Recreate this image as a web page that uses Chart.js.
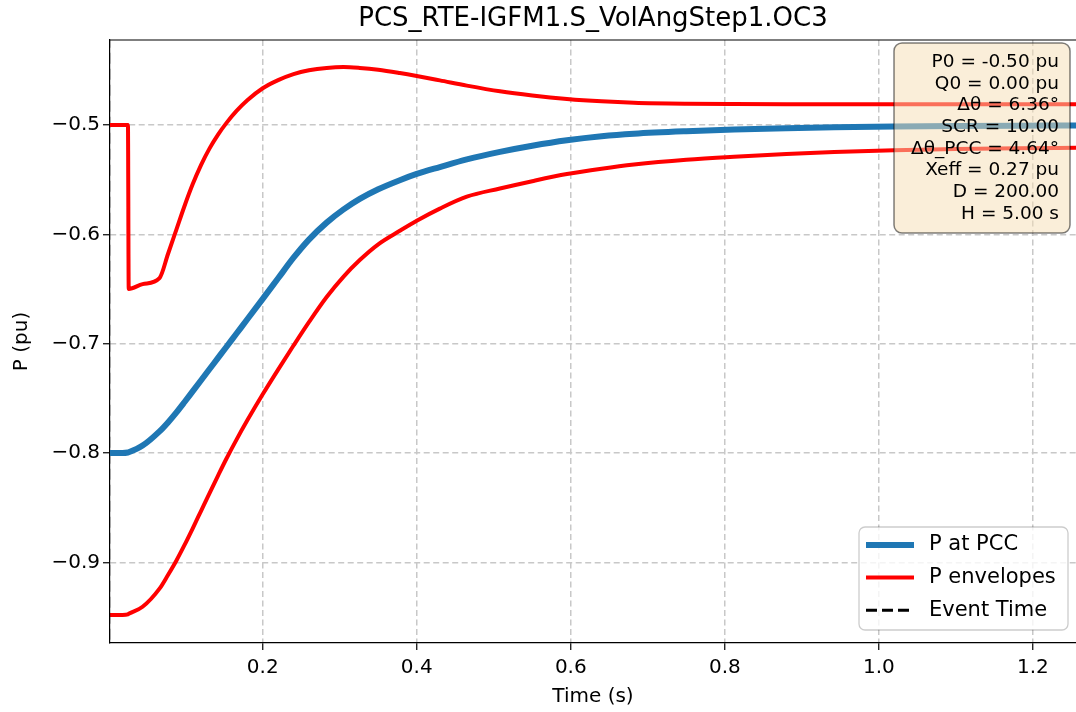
<!DOCTYPE html>
<html>
<head>
<meta charset="utf-8">
<script src="https://cdn.jsdelivr.net/npm/chart.js@4/dist/chart.umd.min.js"></script>
<style>
  html, body { margin: 0; padding: 0; background: #fff; }
</style>
</head>
<body>
<canvas id="chart" width="1076" height="712"></canvas>
<script>
// time axis (s) shared by all series
let time = [0, 0.018, 0.025, 0.026, 0.044, 0.066, 0.077, 0.088, 0.098, 0.109,
  0.12, 0.131, 0.142, 0.153, 0.166, 0.18, 0.2, 0.22, 0.24, 0.26,
  0.283, 0.305, 0.326, 0.35, 0.378, 0.4, 0.43, 0.465, 0.508, 0.55,
  0.595, 0.64, 0.682, 0.75, 0.812, 0.88, 0.942, 1.02, 1.1, 1.18, 1.26];

// P at PCC (pu)
let pPcc = [-0.8, -0.8, -0.7995, -0.7993, -0.7932, -0.7802, -0.772, -0.7628, -0.7538, -0.7436,
  -0.7334, -0.7232, -0.713, -0.7028, -0.6907, -0.6777, -0.659, -0.6402, -0.6214, -0.6048,
  -0.5893, -0.5772, -0.5676, -0.5588, -0.5505, -0.5448, -0.5385, -0.5315, -0.5246, -0.519,
  -0.514, -0.5103, -0.508, -0.5057, -0.5042, -0.503, -0.5021, -0.5014, -0.5009, -0.5006, -0.5004];

// upper and lower envelopes (pu)
let pUpper = [-0.5, -0.5, -0.5, -0.65, -0.6455, -0.64, -0.618, -0.5955, -0.575, -0.5543,
  -0.5365, -0.5214, -0.5088, -0.4981, -0.4872, -0.4774, -0.4664, -0.459, -0.4535, -0.45,
  -0.4478, -0.447, -0.4478, -0.4495, -0.4525, -0.4552, -0.4592, -0.464, -0.4692, -0.473,
  -0.4762, -0.4784, -0.4797, -0.4806, -0.4809, -0.481, -0.481, -0.481, -0.481, -0.481, -0.481];

let pLower = [-0.948, -0.948, -0.9475, -0.947, -0.9406, -0.924, -0.9115, -0.8982, -0.8847, -0.869,
  -0.8528, -0.8366, -0.8206, -0.805, -0.7877, -0.7701, -0.7463, -0.7237, -0.7017, -0.6803,
  -0.6573, -0.6386, -0.6235, -0.6091, -0.5968, -0.5876, -0.5765, -0.5656, -0.5581, -0.5514,
  -0.5449, -0.54, -0.5362, -0.5318, -0.529, -0.5265, -0.5248, -0.5231, -0.522, -0.5213, -0.5208];

// event marker (left of the visible window)
let eventTime = [0, 0];
let eventP = [-1.0, -0.4];

let xTicks = [0.2, 0.4, 0.6, 0.8, 1.0, 1.2];
let yTicks = [-0.9, -0.8, -0.7, -0.6, -0.5];

let paramLines = ['P0 = -0.50 pu', 'Q0 = 0.00 pu', '\u0394\u03b8 = 6.36\u00b0', 'SCR = 10.00',
  '\u0394\u03b8_PCC = 4.64\u00b0', 'Xeff = 0.27 pu', 'D = 200.00', 'H = 5.00 s'];

let FONT = '"DejaVu Sans"';

let toPoints = (xs, ys) => xs.map((x, i) => ({ x: x, y: ys[i] }));

// top spine, parameter box and the legend
let overlay = {
  id: 'overlay',
  afterDatasetsDraw(chart) {
    let ctx = chart.ctx, a = chart.chartArea;
    ctx.save();
    ctx.strokeStyle = '#000';
    ctx.lineWidth = 1.2;
    ctx.beginPath();
    ctx.moveTo(a.left, a.top);
    ctx.lineTo(a.right, a.top);
    ctx.stroke();

    let w = 176, h = 190, x = a.right - 6 - w, y = a.top + 3;
    ctx.beginPath();
    ctx.roundRect(x, y, w, h, 8);
    ctx.fillStyle = 'rgba(245,222,179,0.5)';
    ctx.fill();
    ctx.strokeStyle = 'rgba(0,0,0,0.5)';
    ctx.lineWidth = 1.5;
    ctx.stroke();
    ctx.fillStyle = '#000';
    ctx.font = '18.5px ' + FONT;
    ctx.textAlign = 'right';
    ctx.textBaseline = 'middle';
    paramLines.forEach((s, i) => ctx.fillText(s, x + w - 11, y + 19 + i * 21.7));
    ctx.restore();
  },
  afterDraw(chart) {
    let ctx = chart.ctx, a = chart.chartArea;
    let sets = chart.data.datasets.filter(ds => !ds.noLegend);
    let w = 209, h = 103, x = a.right - 8 - w, y = a.bottom - 13 - h;
    ctx.save();
    ctx.beginPath();
    ctx.roundRect(x, y, w, h, 6);
    ctx.fillStyle = 'rgba(255,255,255,0.8)';
    ctx.fill();
    ctx.strokeStyle = 'rgba(0,0,0,0.2)';
    ctx.lineWidth = 1.3;
    ctx.stroke();
    ctx.font = '21px ' + FONT;
    ctx.textAlign = 'left';
    ctx.textBaseline = 'middle';
    sets.forEach((ds, i) => {
      let cy = y + 18 + i * 32.6;
      ctx.beginPath();
      ctx.setLineDash(ds.borderDash || []);
      ctx.strokeStyle = ds.borderColor;
      ctx.lineWidth = ds.borderWidth;
      ctx.moveTo(x + 7, cy);
      ctx.lineTo(x + 55, cy);
      ctx.stroke();
      ctx.setLineDash([]);
      ctx.fillStyle = '#000';
      ctx.fillText(ds.label, x + 70, cy);
    });
    ctx.restore();
  }
};

let minus = (v) => (v < 0 ? '\u2212' : '') + Math.abs(v).toFixed(1);

let gridOpts = { color: '#c8c8c8', lineWidth: 1.5, tickColor: '#000', tickLength: 7, tickWidth: 1.2, tickBorderDash: [] };

new Chart(document.getElementById('chart'), {
  type: 'line',
  data: {
    datasets: [
      { label: 'P at PCC', data: toPoints(time, pPcc), borderColor: '#1f77b4', borderWidth: 6, cubicInterpolationMode: 'monotone' },
      { label: 'P envelopes', data: toPoints(time, pUpper), borderColor: '#ff0000', borderWidth: 4, cubicInterpolationMode: 'monotone' },
      { label: 'Event Time', data: toPoints(eventTime, eventP), borderColor: '#000', borderWidth: 3, borderDash: [11, 5], clip: 0 },
      { label: 'P envelopes', noLegend: true, data: toPoints(time, pLower), borderColor: '#ff0000', borderWidth: 4, cubicInterpolationMode: 'monotone' }
    ]
  },
  options: {
    responsive: false,
    animation: false,
    events: [],
    layout: { padding: 0 },
    elements: { point: { radius: 0 }, line: { borderCapStyle: 'butt' } },
    plugins: {
      legend: { display: false },
      tooltip: { enabled: false },
      title: { display: false }
    },
    scales: {
      x: {
        type: 'linear',
        min: 0.0017,
        max: 1.256,
        afterBuildTicks: (s) => { s.ticks = xTicks.map(v => ({ value: v })); },
        afterFit: (s) => { s.height = 69; },
        ticks: { color: '#000', padding: 6, font: { family: FONT, size: 20 }, callback: (v) => v.toFixed(1) },
        grid: gridOpts,
        border: { color: '#000', width: 1.2, dash: [6, 3.5] },
        title: { display: true, text: 'Time (s)', color: '#000', font: { family: FONT, size: 20 }, padding: { top: 0, bottom: 3 } }
      },
      // top axis only carries the chart title, centred over the plot area
      top: {
        type: 'linear',
        position: 'top',
        min: 0.0017,
        max: 1.256,
        afterFit: (s) => { s.height = 40; },
        ticks: { display: false },
        grid: { display: false, drawTicks: false },
        border: { display: false },
        title: { display: true, text: 'PCS_RTE-IGFM1.S_VolAngStep1.OC3', color: '#000', font: { family: FONT, size: 26 }, padding: { top: 4, bottom: 0 } }
      },
      y: {
        type: 'linear',
        min: -0.9737,
        max: -0.4223,
        afterBuildTicks: (s) => { s.ticks = yTicks.map(v => ({ value: v })); },
        afterFit: (s) => { s.width = 110; },
        ticks: { color: '#000', padding: 3, font: { family: FONT, size: 20 }, callback: minus },
        grid: gridOpts,
        border: { color: '#000', width: 1.2, dash: [6, 3.5] },
        title: { display: true, text: 'P (pu)', color: '#000', font: { family: FONT, size: 20 }, padding: { top: 10, bottom: 0 } }
      }
    }
  },
  plugins: [overlay]
});
</script>
</body>
</html>
